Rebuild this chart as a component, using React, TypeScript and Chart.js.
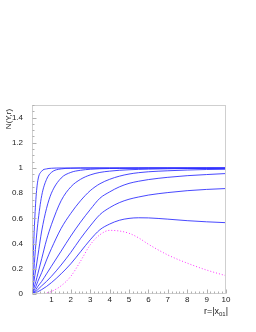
import React, { useEffect, useRef } from "react";
import { Chart, registerables } from "chart.js";

Chart.register(...registerables);

// r grid (shared by all curves)
const R = [0, 0.1, 0.2, 0.3, 0.5, 0.75, 1, 1.5, 2, 2.5, 3, 3.5, 4, 4.5, 5, 5.5, 6, 7, 8, 9, 10];

// N(Y,r) for increasing rapidity (top = largest Y)
const c1 = [0, 0.45, 0.75, 0.9, 0.975, 0.993, 0.998, 1, 1, 1, 1, 1, 1, 1, 1, 1, 1, 1, 1, 1, 1];
const c2 = [0, 0.2, 0.4, 0.56, 0.78, 0.91, 0.965, 0.993, 0.998, 1, 1, 1, 1, 1, 1, 1, 1, 1, 1, 1, 1];
const c3 = [0, 0.1, 0.2, 0.3, 0.5, 0.68, 0.8, 0.92, 0.965, 0.982, 0.99, 0.994, 0.996, 0.997, 0.998, 0.999, 1, 1, 1, 1, 1];
const c4 = [0, 0.05, 0.1, 0.16, 0.28, 0.43, 0.55, 0.74, 0.85, 0.91, 0.945, 0.965, 0.975, 0.982, 0.986, 0.989, 0.991, 0.994, 0.996, 0.997, 0.998];
const c5 = [0, 0.03, 0.06, 0.1, 0.17, 0.27, 0.36, 0.52, 0.64, 0.74, 0.82, 0.875, 0.91, 0.935, 0.952, 0.963, 0.97, 0.978, 0.984, 0.988, 0.99];
const c6 = [0, 0.015, 0.035, 0.06, 0.1, 0.16, 0.22, 0.34, 0.46, 0.57, 0.67, 0.76, 0.81, 0.85, 0.878, 0.895, 0.908, 0.926, 0.939, 0.948, 0.956];
const c7 = [0, 0.008, 0.02, 0.035, 0.065, 0.1, 0.14, 0.23, 0.33, 0.44, 0.54, 0.63, 0.685, 0.725, 0.752, 0.77, 0.785, 0.805, 0.82, 0.83, 0.837];
const c8 = [0, 0.003, 0.01, 0.018, 0.035, 0.06, 0.09, 0.16, 0.24, 0.335, 0.43, 0.51, 0.555, 0.585, 0.6, 0.605, 0.604, 0.594, 0.582, 0.573, 0.566];
// initial condition (dotted)
const init = [0, 0, 0, 0.001, 0.003, 0.008, 0.02, 0.065, 0.14, 0.26, 0.39, 0.47, 0.505, 0.5, 0.482, 0.445, 0.395, 0.31, 0.245, 0.19, 0.145];

const blueSeries = [c1, c2, c3, c4, c5, c6, c7, c8];

const X_TICKS_MAJOR = [0, 1, 2, 3, 4, 5, 6, 7, 8, 9, 10];
const Y_LABEL = "N(Y,r)";
const X_LABEL_MAIN = "r=|x";
const X_LABEL_SUB = "01";
const X_LABEL_END = "|";

const FONT = "'Liberation Sans', Arial, sans-serif";

const framePlugin = {
  id: "frame",
  afterDraw(chart: any) {
    const { ctx, chartArea } = chart;
    const xs = chart.scales.x;
    const ys = chart.scales.y;
    const { left, right, top, bottom } = chartArea;
    ctx.save();
    ctx.strokeStyle = "#cfcfcf";
    ctx.lineWidth = 1;
    ctx.strokeRect(left + 0.5, top + 0.5, right - left - 1, bottom - top - 1);
    ctx.strokeStyle = "#b0b0b0";
    ctx.beginPath();
    for (let v = 0; v <= 10.0001; v += 0.2) {
      const major = Math.abs(v - Math.round(v)) < 1e-6;
      const px = Math.round(xs.getPixelForValue(v)) + 0.5;
      ctx.moveTo(px, bottom - 0.5);
      ctx.lineTo(px, bottom - 0.5 - (major ? 4 : 2));
    }
    for (let v = 0; v <= 1.5001; v += 0.05) {
      const major = Math.abs(v * 5 - Math.round(v * 5)) < 1e-6;
      const py = Math.round(ys.getPixelForValue(v)) + 0.5;
      ctx.moveTo(left + 0.5, py);
      ctx.lineTo(left + 0.5 + (major ? 4 : 2), py);
    }
    ctx.stroke();

    ctx.fillStyle = "#222";
    // y title
    ctx.save();
    ctx.translate(10.5, 119);
    ctx.rotate(-Math.PI / 2);
    ctx.font = `8px ${FONT}`;
    ctx.textAlign = "center";
    ctx.textBaseline = "alphabetic";
    ctx.fillText(Y_LABEL, 0, 0);
    ctx.restore();
    // x title
    ctx.font = `9px ${FONT}`;
    ctx.textBaseline = "alphabetic";
    ctx.textAlign = "left";
    const wMain = ctx.measureText(X_LABEL_MAIN).width;
    ctx.font = `6px ${FONT}`;
    const wSub = ctx.measureText(X_LABEL_SUB).width;
    ctx.font = `9px ${FONT}`;
    const wEnd = ctx.measureText(X_LABEL_END).width;
    const total = wMain + wSub + wEnd;
    const x0 = 228 - total;
    const base = 314;
    ctx.fillText(X_LABEL_MAIN, x0, base);
    ctx.font = `6px ${FONT}`;
    ctx.fillText(X_LABEL_SUB, x0 + wMain, base + 2);
    ctx.font = `9px ${FONT}`;
    ctx.fillText(X_LABEL_END, x0 + wMain + wSub, base);
    ctx.restore();
  },
};

export default function App() {
  const ref = useRef<HTMLCanvasElement | null>(null);
  useEffect(() => {
    if (!ref.current) return;
    const mk = (arr: number[]) => R.map((x, i) => ({ x, y: arr[i] }));
    const datasets: any[] = blueSeries.map((s) => ({
      data: mk(s),
      borderColor: "rgba(40,40,255,0.85)",
      borderWidth: 1,
      pointRadius: 0,
      cubicInterpolationMode: "monotone",
      fill: false,
    }));
    datasets.push({
      data: mk(init),
      borderColor: "#ff33ff",
      borderWidth: 1,
      borderDash: [1, 2],
      pointRadius: 0,
      cubicInterpolationMode: "monotone",
      fill: false,
    });
    const chart = new Chart(ref.current, {
      type: "line",
      data: { datasets },
      options: {
        animation: false,
        responsive: false,
        devicePixelRatio: 1,
        layout: { padding: { top: 105, right: 30, left: 0, bottom: 0 } },
        plugins: { legend: { display: false }, tooltip: { enabled: false } },
        scales: {
          x: {
            type: "linear",
            min: 0,
            max: 10,
            grid: { display: false, drawTicks: false },
            border: { display: false },
            afterFit: (s: any) => {
              s.height = 38;
            },
            afterBuildTicks: (s: any) => {
              s.ticks = X_TICKS_MAJOR.map((v) => ({ value: v }));
            },
            ticks: {
              padding: 1,
              color: "#222",
              maxRotation: 0,
              autoSkip: false,
              font: { family: FONT, size: 8 },
              callback: (v: any) => (v === 0 ? "" : String(v)),
            },
          },
          y: {
            type: "linear",
            min: 0,
            max: 1.5,
            grid: { display: false, drawTicks: false },
            border: { display: false },
            afterFit: (s: any) => {
              s.width = 32;
            },
            ticks: {
              stepSize: 0.2,
              includeBounds: false,
              padding: 9,
              color: "#222",
              font: { family: FONT, size: 8 },
              callback: (v: any) => String(Math.round(Number(v) * 10) / 10),
            },
          },
        },
      } as any,
      plugins: [framePlugin],
    });
    return () => chart.destroy();
  }, []);
  return (
    <div style={{ position: "absolute", left: 0, top: 0, width: 256, height: 332, background: "#fff" }}>
      <canvas ref={ref} width={256} height={332} style={{ display: "block", width: 256, height: 332 }} />
    </div>
  );
}
